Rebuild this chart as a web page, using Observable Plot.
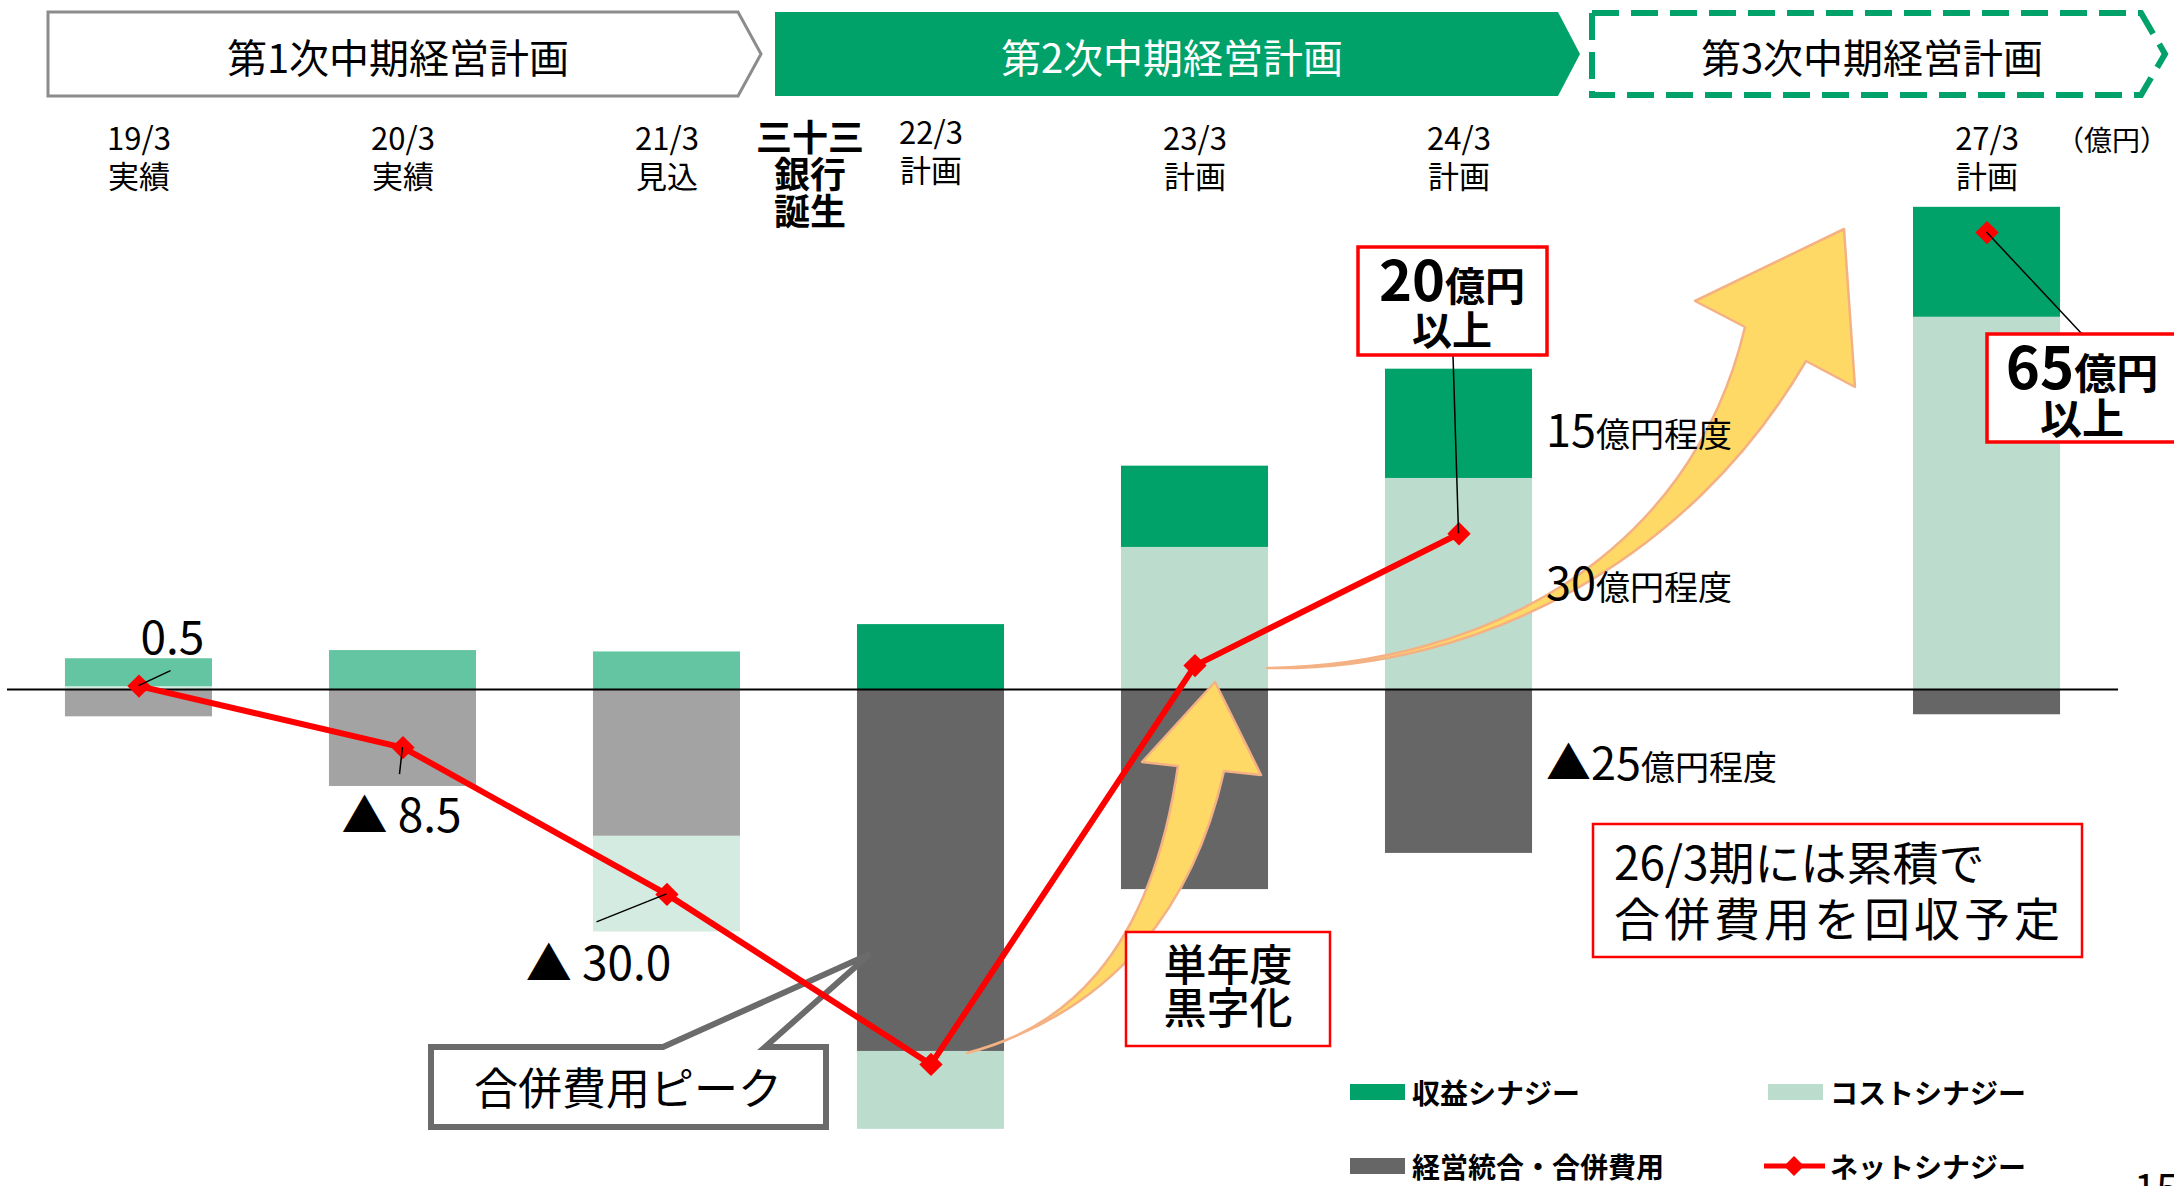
<!DOCTYPE html>
<html><head><meta charset="utf-8">
<script src="https://cdn.jsdelivr.net/npm/d3@7"></script>
<script src="https://cdn.jsdelivr.net/npm/@observablehq/plot@0.6"></script>
<style>
html,body{margin:0;padding:0;background:#fff;overflow:hidden}
svg text{font-family:"Noto Sans CJK JP","Noto Sans",sans-serif}
</style></head><body><div id="chart"></div>
<script>
// ---- data (億円) ----
const slots = ["19/3","20/3","21/3","22/3","23/3","24/3","25/3-26/3","27/3"];
const periodLabels = ["実績","実績","見込","計画","計画","計画","","計画"];
const revenueSynergy  = [4.1, 5.7,   5.5,   9.5, 11.9, 16.0, NaN, 16.1];
const costSynergy     = [0.4, 0.0, -14.0, -11.4, 20.8, 30.9, NaN, 54.5];
const integrationCost = [-4.0,-14.2,-21.5,-53.0,-29.3,-24.0, NaN, -3.7];
const netSynergy      = [0.5, -8.5, -30.0, -54.9,  3.5, 22.8, NaN, 66.9];
const stackSeries = ["経営統合・合併費用","コストシナジー","収益シナジー"];
const legendNames = ["収益シナジー","コストシナジー","経営統合・合併費用","ネットシナジー"];
const planNames = ["第1次中期経営計画","第2次中期経営計画","第3次中期経営計画"];
const netLabelSlots = ["19/3","20/3","21/3"];
const targetSlots = ["24/3","27/3"];
const targetAmounts = ["20","65"];
const breakdownAmounts = ["15","30","▲25"];
const breakdownUnit = "億円程度";
const unitLabel = "（億円）";
const bankLabel = ["三十三","銀行","誕生"];
const peakLabel = "合併費用ピーク";
const profitLabel = ["単年度","黒字化"];
const recoveryLabel = ["26/3期には累積で","合併費用を回収予定"];

// ---- tables built from the arrays ----
const seriesValues = {"経営統合・合併費用": integrationCost, "コストシナジー": costSynergy, "収益シナジー": revenueSynergy};
const stackRows = [];
slots.forEach((s, i) => {
  if (!periodLabels[i]) return;
  const actual = periodLabels[i] !== "計画";
  stackSeries.forEach(k => stackRows.push({slot: s, series: k, value: seriesValues[k][i], actual}));
});
const netRows = slots.map((s, i) => ({slot: s, net: netSynergy[i]}));
const labelRows = slots.map((s, i) => ({slot: s, period: periodLabels[i]})).filter(d => d.period);

const palette = {
  "収益シナジー": ["#00A26A", "#63C5A2"],
  "コストシナジー": ["#BCDDCE", "#D4EBE1"],
  "経営統合・合併費用": ["#666666", "#A3A3A3"]
};
const RED = "#FF0000";

const W = 2174, H = 1186;
const plot = Plot.plot({
  width: W, height: H,
  marginTop: 0, marginBottom: 0, marginLeft: 0, marginRight: 0,
  x: {domain: slots, range: [-52, 2177], padding: 0.443, round: false, axis: null},
  y: {domain: [-72.77, 100.88], axis: null},
  color: {type: "identity"},
  marks: [
    Plot.barY(stackRows, {x: "slot", y: "value", z: "series", order: null,
      fill: d => palette[d.series][d.actual ? 1 : 0], inset: 0}),
    Plot.ruleY([0], {stroke: "#000", strokeWidth: 2.2, insetLeft: 7, insetRight: 56}),
    Plot.line(netRows, {x: "slot", y: "net", stroke: RED, strokeWidth: 6}),
    Plot.dot(netRows.filter(d => isFinite(d.net)), {x: "slot", y: "net", symbol: "diamond2", r: 10.5, fill: RED}),
    Plot.text(labelRows.filter(d => d.slot !== "22/3"), {x: "slot", text: d => d.slot + "\n" + d.period, frameAnchor: "top", lineAnchor: "middle", dy: 156, lineHeight: 1.23, fontSize: 31}),
    Plot.text(labelRows.filter(d => d.slot === "22/3"), {x: "slot", text: d => d.slot + "\n" + d.period, frameAnchor: "top", lineAnchor: "middle", dy: 150, lineHeight: 1.23, fontSize: 31})
  ]
});
document.getElementById("chart").appendChild(plot);

// ---- annotations anchored on Plot's scales ----
const svg = d3.select(plot);
const xs = plot.scale("x"), ys = plot.scale("y");
const cx = s => xs.apply(s) + xs.bandwidth / 2;
const cy = v => ys.apply(v);
const netOf = s => netSynergy[slots.indexOf(s)];

function txt(g, x, y, str, size, opts = {}) {
  const t = g.append("text").attr("x", x).attr("y", y).attr("font-size", size)
    .attr("text-anchor", opts.anchor || "middle")
    .attr("dominant-baseline", opts.baseline || "central")
    .attr("fill", opts.fill || "#000")
    .attr("font-weight", opts.weight || 400)
    .text(str);
  if (opts.spacing) t.attr("letter-spacing", opts.spacing);
  return t;
}
// multi-line text as one element (lines: array, gap in px between line centres)
function mtxt(g, x, y, lines, size, gap, opts = {}) {
  const t = g.append("text").attr("x", x).attr("y", y).attr("font-size", size)
    .attr("text-anchor", opts.anchor || "middle")
    .attr("dominant-baseline", "central")
    .attr("font-weight", opts.weight || 400);
  lines.forEach((l, i) => {
    const ts = t.append("tspan").attr("x", x).attr("y", y + i * gap).text(l);
    if (opts.spacings && opts.spacings[i]) ts.attr("letter-spacing", opts.spacings[i]);
  });
  return t;
}

// layer under the net line: curved arrows and the peak callout
const under = svg.insert("g", 'g[aria-label="line"]');
under.append("path")
  .attr("d", "M967,1053 C1060,1030 1150,960 1178,766 L1142,762 L1215,682 L1261,775 L1224,771 C1195,900 1120,1010 967,1053 Z")
  .attr("fill", "#FFD966").attr("stroke", "#F4B183").attr("stroke-width", 2.5).attr("stroke-linejoin", "round");
under.append("path")
  .attr("d", "M1267,668 C1480,665 1690,560 1745,327 L1695,301 L1844,229 L1855,387 L1806,361 C1690,560 1480,672 1267,668 Z")
  .attr("fill", "#FFD966").attr("stroke", "#F4B183").attr("stroke-width", 2.5).attr("stroke-linejoin", "round");
under.append("path")
  .attr("d", "M431,1047 H663 L870,954 L765,1047 H826 V1127 H431 Z")
  .attr("fill", "#fff").attr("stroke", "#6b6b6b").attr("stroke-width", 6).attr("stroke-linejoin", "miter");
txt(under, 628, 1086, peakLabel, 44);

// overlay layer
const ov = svg.append("g");

// header chevrons
ov.append("path").attr("d", "M48,12H738L761,54L738,96H48Z").attr("fill", "#fff").attr("stroke", "#8c8c8c").attr("stroke-width", 3);
ov.append("path").attr("d", "M775,12H1558L1580,54L1558,96H775Z").attr("fill", "#00A26A");
ov.append("path").attr("d", "M1592,13H2141L2165,54L2141,95H1592Z").attr("fill", "none").attr("stroke", "#00A26A").attr("stroke-width", 6).attr("stroke-dasharray", "27 12");
txt(ov, 398, 56, planNames[0], 40);
txt(ov, 1172, 56, planNames[1], 40, {fill: "#fff"});
txt(ov, 1872, 56, planNames[2], 40);

// unit and bank label
txt(ov, 2112, 139, unitLabel, 28);
mtxt(ov, 810, 135, bankLabel, 36, 37, {weight: 700});

// net labels with leader lines
const fmt = v => v < 0 ? "▲ " + Math.abs(v).toFixed(1) : v.toFixed(1);
const netLabelLayout = {"19/3": {lx: 32, ly: -15, tx: 34, ty: -52}, "20/3": {lx: -3, ly: 27, tx: -1, ty: 65}, "21/3": {lx: -70, ly: 28, tx: -68, ty: 66}};
netLabelSlots.forEach(s => {
  const px = cx(s), py = cy(netOf(s)), L = netLabelLayout[s];
  ov.append("line").attr("x1", px).attr("y1", py).attr("x2", px + L.lx).attr("y2", py + L.ly).attr("stroke", "#000").attr("stroke-width", 1.5);
  txt(ov, px + L.tx, py + L.ty, fmt(netOf(s)), 46);
});

// target boxes
const targetLayout = [
  {box: [1358, 247, 189, 108], lead: [1453, 355], cxT: 1452, y1: 301, y2: 345, big: 56, small: 40},
  {box: [1987, 334, 192, 108], lead: [2082, 334], cxT: 2082, y1: 389, y2: 434, big: 58, small: 42}
];
targetSlots.forEach((s, i) => {
  const L = targetLayout[i];
  ov.append("line").attr("x1", cx(s)).attr("y1", cy(netOf(s))).attr("x2", L.lead[0]).attr("y2", L.lead[1]).attr("stroke", "#000").attr("stroke-width", 1.5);
  ov.append("rect").attr("x", L.box[0]).attr("y", L.box[1]).attr("width", L.box[2]).attr("height", L.box[3])
    .attr("fill", "#fff").attr("stroke", RED).attr("stroke-width", 3.5);
  const t = ov.append("text").attr("x", L.cxT).attr("y", L.y1).attr("text-anchor", "middle").attr("font-weight", 700);
  t.append("tspan").attr("font-size", L.big).text(targetAmounts[i]);
  t.append("tspan").attr("font-size", L.small).text("億円");
  t.append("tspan").attr("x", L.cxT).attr("y", L.y2).attr("font-size", L.small).text("以上");
});

// breakdown notes beside 24/3
const noteBaselines = [447, 600, 780];
breakdownAmounts.forEach((a, i) => {
  const t = ov.append("text").attr("x", 1546).attr("y", noteBaselines[i]).attr("text-anchor", "start");
  t.append("tspan").attr("font-size", 45).text(a);
  t.append("tspan").attr("font-size", 34).text(breakdownUnit);
});

// single-year profit box
ov.append("rect").attr("x", 1126).attr("y", 932).attr("width", 204).attr("height", 114).attr("fill", "#fff").attr("stroke", RED).attr("stroke-width", 2.5);
mtxt(ov, 1228, 962, profitLabel, 43, 43, {weight: 500});

// recovery box
ov.append("rect").attr("x", 1593).attr("y", 824).attr("width", 489).attr("height", 133).attr("fill", "#fff").attr("stroke", RED).attr("stroke-width", 2.5);
mtxt(ov, 1614, 860, recoveryLabel, 46, 56, {anchor: "start", spacings: [0, 4]});

// legend
const legSw = [[1350, 1092, palette["収益シナジー"][0]], [1768, 1092, palette["コストシナジー"][0]], [1350, 1166, palette["経営統合・合併費用"][0]]];
legSw.forEach(([x, y, c], i) => {
  ov.append("rect").attr("x", x).attr("y", y - 8).attr("width", 55).attr("height", 16).attr("fill", c);
  txt(ov, x + 62, y, legendNames[i], 28, {anchor: "start", weight: 700});
});
ov.append("line").attr("x1", 1764).attr("x2", 1825).attr("y1", 1166).attr("y2", 1166).attr("stroke", RED).attr("stroke-width", 5);
ov.append("path").attr("d", d3.symbol(d3.symbolDiamond2, Math.PI * 81)()).attr("transform", "translate(1794,1166)").attr("fill", RED);
txt(ov, 1830, 1166, legendNames[3], 28, {anchor: "start", weight: 700});

// page number (cut by the frame, as in the source slide)
ov.append("text").attr("x", 2134).attr("y", 1203).attr("font-size", 40).attr("text-anchor", "start").text("15");
</script></body></html>
